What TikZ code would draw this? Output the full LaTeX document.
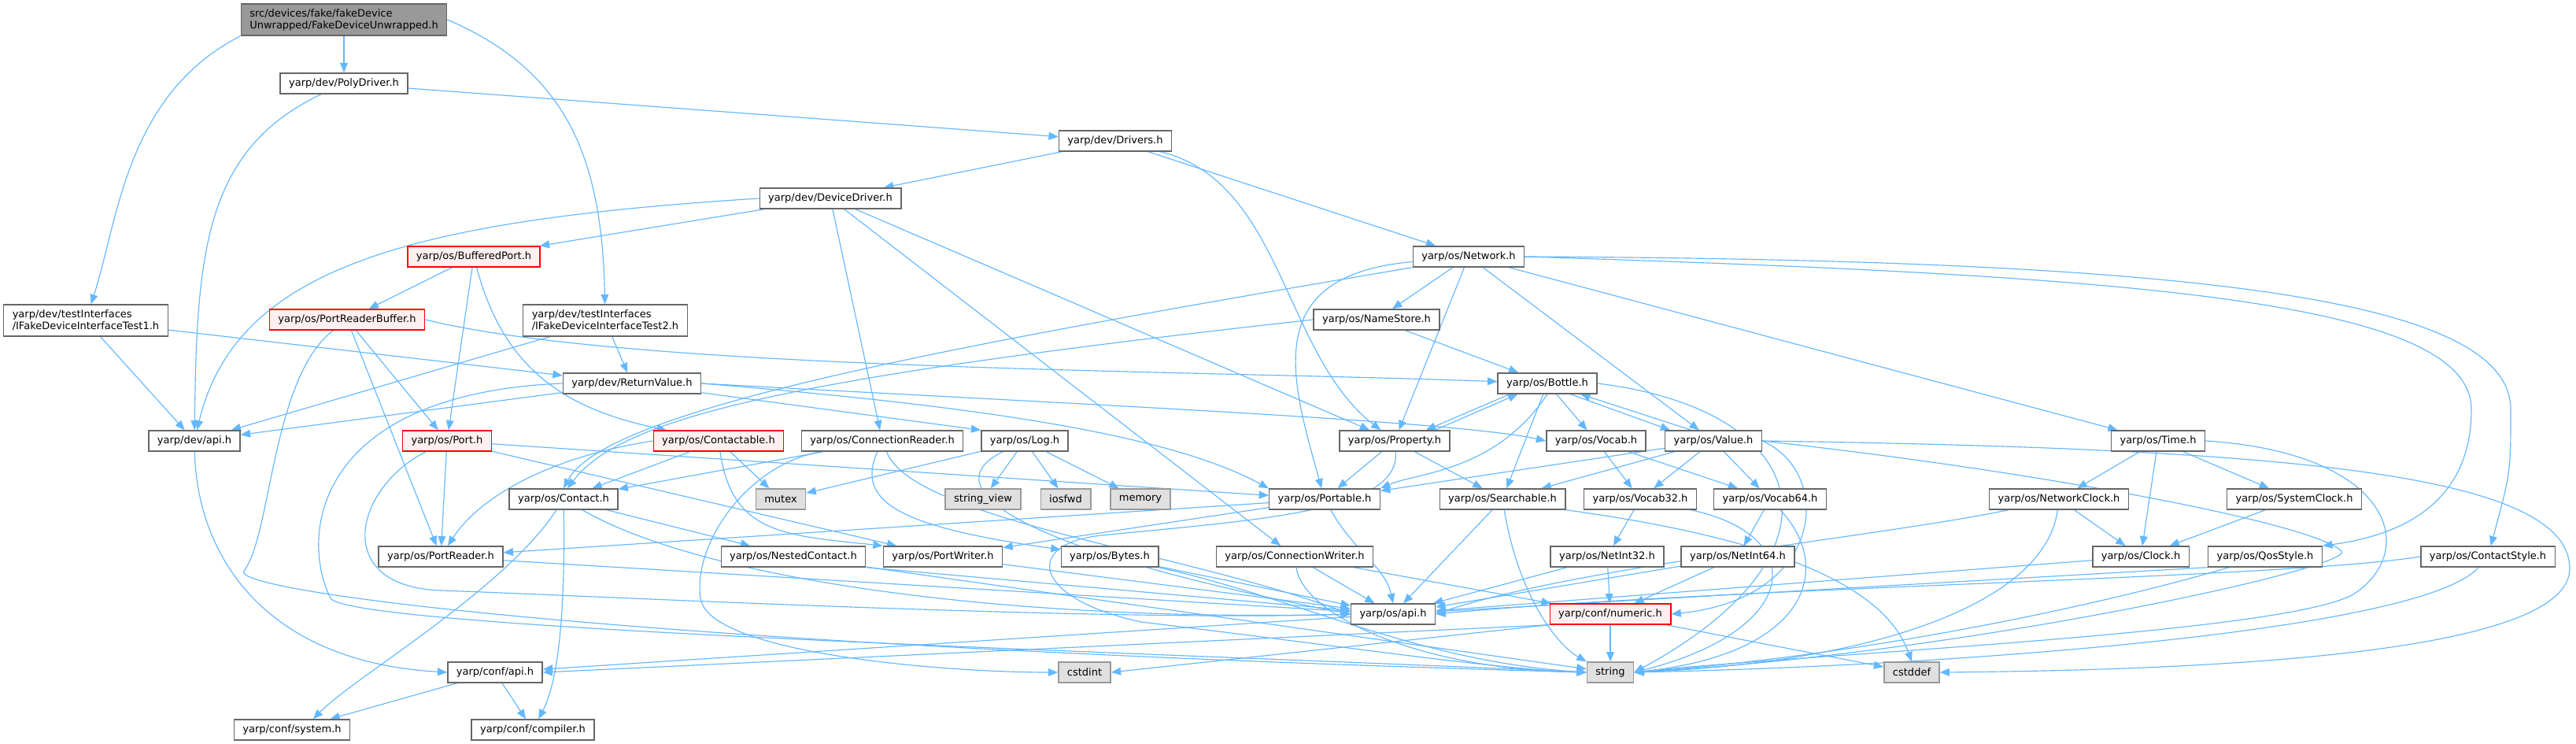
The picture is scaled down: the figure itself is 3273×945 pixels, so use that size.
\documentclass[tikz,border=0pt]{standalone}
\usepackage{fontspec}
\setmainfont{DejaVu Sans}
\usetikzlibrary{arrows.meta}
\definecolor{linkblue}{HTML}{63B8FF}
\definecolor{framegray}{HTML}{666666}
\definecolor{sysframe}{HTML}{999999}
\definecolor{sysfill}{HTML}{E0E0E0}
\definecolor{cutfill}{HTML}{FFF0F0}
\definecolor{rootfill}{HTML}{999999}
\pgfdeclarelayer{wires}
\pgfsetlayers{wires,main}
\tikzset{
  hdr/.style={draw=framegray, fill=white, line width=0.8pt, inner xsep=0.22cm, inner ysep=0pt, minimum height=0.52cm, font=\fontsize{7.4}{8.6}\selectfont},
  hdrcut/.style={hdr, draw=red, fill=cutfill},
  hdrsys/.style={hdr, draw=sysframe, fill=sysfill},
  hdrtwo/.style={hdr, align=left, minimum height=0.8cm},
  hdrroot/.style={hdrtwo, fill=rootfill},
  inc/.style={draw=linkblue, line width=0.65pt, -{Triangle[length=7pt,width=5.6pt]}},
}
\begin{document}
\begin{tikzpicture}[x=0.02cm, y=-0.02cm]
\useasboundingbox (0,0) rectangle (3273,945);
% headers, row by row
\node[hdrroot] (root) at (437,25) {src/devices/fake/fakeDevice\\Unwrapped/FakeDeviceUnwrapped.h};
\node[hdr] (polydriver) at (437,106) {yarp/dev/PolyDriver.h};
\node[hdr] (drivers) at (1417,179) {yarp/dev/Drivers.h};
\node[hdr] (devicedriver) at (1055,252) {yarp/dev/DeviceDriver.h};
\node[hdrcut] (bufferedport) at (602,326) {yarp/os/BufferedPort.h};
\node[hdr] (network) at (1866,326) {yarp/os/Network.h};
\node[hdrtwo] (ifaceA) at (109,407) {yarp/dev/testInterfaces\\/IFakeDeviceInterfaceTest1.h};
\node[hdrcut] (readerbuffer) at (441,406) {yarp/os/PortReaderBuffer.h};
\node[hdrtwo] (ifaceB) at (769,407) {yarp/dev/testInterfaces\\/IFakeDeviceInterfaceTest2.h};
\node[hdr] (namestore) at (1749,406) {yarp/os/NameStore.h};
\node[hdr] (returnvalue) at (803,487) {yarp/dev/ReturnValue.h};
\node[hdr] (bottle) at (1966,487) {yarp/os/Bottle.h};
\node[hdr] (devapi) at (247,560) {yarp/dev/api.h};
\node[hdrcut] (port) at (568,560) {yarp/os/Port.h};
\node[hdrcut] (contactable) at (913,560) {yarp/os/Contactable.h};
\node[hdr] (connreader) at (1121,560) {yarp/os/ConnectionReader.h};
\node[hdr] (log) at (1302,560) {yarp/os/Log.h};
\node[hdr] (property) at (1772,560) {yarp/os/Property.h};
\node[hdr] (vocab) at (2028,560) {yarp/os/Vocab.h};
\node[hdr] (value) at (2177,560) {yarp/os/Value.h};
\node[hdr] (time) at (2742,560) {yarp/os/Time.h};
\node[hdr] (contact) at (716,634) {yarp/os/Contact.h};
\node[hdrsys] (mutex) at (992,634) {mutex};
\node[hdrsys] (stringview) at (1249,634) {string\_view};
\node[hdrsys] (iosfwd) at (1354,634) {iosfwd};
\node[hdrsys] (memory) at (1449,634) {memory};
\node[hdr] (portable) at (1683,634) {yarp/os/Portable.h};
\node[hdr] (searchable) at (1909,634) {yarp/os/Searchable.h};
\node[hdr] (vocab32) at (2084,634) {yarp/os/Vocab32.h};
\node[hdr] (vocab64) at (2249,634) {yarp/os/Vocab64.h};
\node[hdr] (networkclock) at (2616,634) {yarp/os/NetworkClock.h};
\node[hdr] (systemclock) at (2915,634) {yarp/os/SystemClock.h};
\node[hdr] (portreader) at (560,707) {yarp/os/PortReader.h};
\node[hdr] (nested) at (1008,707) {yarp/os/NestedContact.h};
\node[hdr] (portwriter) at (1198,707) {yarp/os/PortWriter.h};
\node[hdr] (bytes) at (1410,707) {yarp/os/Bytes.h};
\node[hdr] (connwriter) at (1645,707) {yarp/os/ConnectionWriter.h};
\node[hdr] (netint32) at (2042,707) {yarp/os/NetInt32.h};
\node[hdr] (netint64) at (2208,707) {yarp/os/NetInt64.h};
\node[hdr] (clock) at (2720,707) {yarp/os/Clock.h};
\node[hdr] (qosstyle) at (2878,707) {yarp/os/QosStyle.h};
\node[hdr] (contactstyle) at (3161,707) {yarp/os/ContactStyle.h};
\node[hdr] (osapi) at (1770,780) {yarp/os/api.h};
\node[hdrcut] (numeric) at (2046,780) {yarp/conf/numeric.h};
\node[hdr] (confapi) at (629,854) {yarp/conf/api.h};
\node[hdrsys] (cstdint) at (1378,854) {cstdint};
\node[hdrsys] (string) at (2046,854) {string};
\node[hdrsys] (cstddef) at (2429,854) {cstddef};
\node[hdr] (system) at (371,927) {yarp/conf/system.h};
\node[hdr] (compiler) at (677,927) {yarp/conf/compiler.h};

\begin{pgfonlayer}{wires}
\fill[white] (0,0) rectangle (3273,945);
% straight includes
\foreach \a/\b in {root/polydriver, polydriver/drivers, ifaceA/devapi, ifaceA/returnvalue,
    ifaceB/devapi, ifaceB/returnvalue, drivers/devicedriver, drivers/network,
    devicedriver/bufferedport, devicedriver/connreader, devicedriver/connwriter, devicedriver/property,
    bufferedport/readerbuffer, bufferedport/port, readerbuffer/port, readerbuffer/portreader,
    returnvalue/devapi, port/portreader, port/portable, port/portwriter,
    contactable/contact, contactable/mutex, connreader/contact,
    log/mutex, log/stringview, log/iosfwd, log/memory,
    network/namestore, network/property, network/value, network/time, namestore/bottle,
    bottle/searchable, bottle/vocab, property/portable, property/searchable,
    value/portable, value/searchable, value/vocab32, value/vocab64, vocab/vocab32, vocab/vocab64,
    vocab32/netint32, vocab64/netint64, searchable/osapi, portable/portreader, portable/portwriter,
    netint32/osapi, netint32/numeric, netint64/osapi, netint64/numeric, bytes/osapi,
    nested/string, portreader/osapi, portwriter/osapi, connwriter/osapi, connwriter/numeric,
    contact/nested, osapi/confapi, numeric/string, numeric/cstddef, confapi/system, confapi/compiler,
    time/networkclock, time/clock, time/systemclock, networkclock/clock, systemclock/clock, clock/osapi}
  \draw[inc] (\a) -- (\b);
\draw[inc] (nested.south east) -- (osapi);
\draw[inc] (qosstyle.south west) -- (osapi);
\draw[inc] (numeric.south west) -- (confapi.east);
\draw[inc] (numeric.south west) -- (cstdint.east);
\draw[inc] (returnvalue) -- (log.north west);
\draw[inc] (bottle.196) -- (property.19);
\draw[inc] (property.15) -- (bottle.200);
\draw[inc] (bottle.335) -- (value.166);
\draw[inc] (value.154) -- (bottle.342);
% bent includes
\draw[inc] (root.south west) .. controls (160,120) and (150,280) .. (ifaceA);
\draw[inc] (root.east) .. controls (720,90) and (765,200) .. (ifaceB);
\draw[inc] (polydriver) .. controls (260,190) and (250,320) .. (devapi);
\draw[inc] (drivers) .. controls (1630,230) and (1630,450) .. (property);
\draw[inc] (devicedriver.west) .. controls (520,280) and (300,340) .. (devapi);
\draw[inc] (bufferedport) .. controls (640,470) and (720,520) .. (contactable);
\draw[inc] (readerbuffer.east) .. controls (800,470) and (1500,470) .. (bottle);
\draw[inc] (readerbuffer) .. controls (345,480) and (345,680) .. (310,725) .. controls (290,751) and (800,820) .. (string.west);
\draw[inc] (returnvalue.west) .. controls (400,500) and (380,680) .. (420,760) .. controls (450,800) and (1500,830) .. (string.west);
\draw[inc] (returnvalue.east) .. controls (1300,520) and (1500,560) .. (portable.north west);
\draw[inc] (returnvalue.east) .. controls (1400,515) and (1850,535) .. (vocab.west);
\draw[inc] (port) .. controls (450,620) and (420,745) .. (560,750) .. controls (760,757) and (1400,790) .. (osapi.west);
\draw[inc] (contactable) .. controls (930,680) and (1000,680) .. (portwriter.north west);
\draw[inc] (contactable.west) .. controls (700,580) and (610,630) .. (portreader);
\draw[inc] (connreader) .. controls (1085,640) and (1150,670) .. (bytes);
\draw[inc] (connreader) .. controls (950,590) and (880,690) .. (890,760) .. controls (900,830) and (1200,854) .. (cstdint.west);
\draw[inc] (connreader) .. controls (1160,660) and (1500,700) .. (osapi.west);
\draw[inc] (log) .. controls (1180,620) and (1300,700) .. (osapi.west);
\draw[inc] (bytes) .. controls (1650,760) and (1800,840) .. (string.west);
\draw[inc] (network.south west) .. controls (1200,440) and (770,520) .. (contact.north);
\draw[inc] (namestore.west) .. controls (1000,480) and (790,530) .. (contact.70);
\draw[inc] (network) .. controls (1600,350) and (1640,480) .. (portable);
\draw[inc] (network.east) .. controls (2700,350) and (3140,380) .. (3140,520) .. controls (3140,640) and (3050,680) .. (qosstyle.north east);
\draw[inc] (network.east) .. controls (2800,330) and (3190,380) .. (3190,520) .. controls (3190,600) .. (contactstyle);
\draw[inc] (bottle.south) .. controls (1900,600) and (1800,600) .. (portable.north east);
\draw[inc] (bottle.east) .. controls (2300,520) and (2360,700) .. (string.east);
\draw[inc] (property) .. controls (1780,650) and (1600,660) .. (1400,680) .. controls (1300,690) and (1310,760) .. (1450,790) .. controls (1700,820) and (1900,850) .. (string.west);
\draw[inc] (value.east) .. controls (2330,600) and (2320,760) .. (numeric.east);
\draw[inc] (value.east) .. controls (2600,600) and (2940,665) .. (2975,700) .. controls (2995,720) and (2500,830) .. (string.east);
\draw[inc] (value.east) .. controls (2900,570) and (3260,600) .. (3265,720) .. controls (3270,820) and (2900,850) .. (cstddef.east);
\draw[inc] (vocab32) .. controls (2300,680) and (2290,800) .. (string.east);
\draw[inc] (vocab64) .. controls (2330,720) and (2300,830) .. (string.east);
\draw[inc] (searchable) .. controls (1930,760) and (1980,820) .. (string.north west);
\draw[inc] (searchable.south east) .. controls (2300,690) and (2400,760) .. (cstddef.north);
\draw[inc] (portable) .. controls (1720,700) and (1760,720) .. (osapi.north);
\draw[inc] (connwriter) .. controls (1655,780) and (1800,850) .. (string.west);
\draw[inc] (contact) .. controls (640,750) and (450,860) .. (system.27);
\draw[inc] (contact) .. controls (718,760) and (712,860) .. (compiler);
\draw[inc] (contact) .. controls (900,740) and (1300,790) .. (osapi.west);
\draw[inc] (devapi) .. controls (250,700) and (330,840) .. (confapi.west);
\draw[inc] (time.east) .. controls (3040,575) and (3075,700) .. (2990,755) .. controls (2900,805) and (2300,830) .. (string.east);
\draw[inc] (networkclock) .. controls (2600,760) and (2400,840) .. (string.east);
\draw[inc] (qosstyle) .. controls (2700,760) and (2400,830) .. (string.east);
\draw[inc] (contactstyle) .. controls (3080,800) and (2500,845) .. (string.east);
\draw[inc] (networkclock) .. controls (2400,680) and (2000,720) .. (osapi.east);
\draw[inc] (contactstyle.west) .. controls (2900,735) and (2200,745) .. (osapi.east);
\end{pgfonlayer}
\end{tikzpicture}
\end{document}
